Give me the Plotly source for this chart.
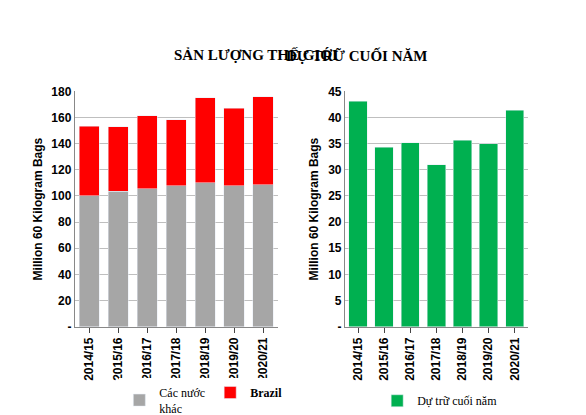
import plotly.graph_objects as go

years = ["2014/15", "2015/16", "2016/17", "2017/18", "2018/19", "2019/20", "2020/21"]
other = [100, 103.5, 105.5, 108, 110, 108, 108.5]
brazil = [53.5, 49.5, 56, 50.5, 65, 59, 67.5]
stocks = [43.1, 34.3, 35.2, 31.0, 35.7, 35.0, 41.4]

fig = go.Figure()
fig.add_trace(go.Bar(x=years, y=other, name="Các nước<br>khác", marker_color="#a6a6a6",
                     xaxis="x", yaxis="y", legend="legend"))
fig.add_trace(go.Bar(x=years, y=brazil, name="<b>Brazil</b>", marker_color="#ff0000",
                     xaxis="x", yaxis="y", legend="legend"))
fig.add_trace(go.Bar(x=years, y=stocks, name="Dự trữ cuối năm", marker_color="#00b050",
                     xaxis="x2", yaxis="y2", legend="legend2"))

tickf = dict(family="Arial", size=12, color="black")
ytitle = dict(text="<b>Million 60 Kilogram Bags</b>", font=dict(family="Arial", size=12, color="black"), standoff=6)
fig.update_layout(
    width=586, height=415, barmode="stack", bargap=0.3,
    paper_bgcolor="white", plot_bgcolor="white",
    margin=dict(l=0, r=0, t=0, b=0),
    font=tickf, showlegend=True,
    xaxis=dict(domain=[0.114, 0.46], anchor="y", tickangle=-90, showline=True, linecolor="#888",
               ticks="outside", tickfont=tickf, tickprefix="<b>", ticksuffix="</b>", automargin=False),
    yaxis=dict(domain=[0.217, 0.795], range=[0, 180], gridcolor="#bfbfbf",
               showline=True, linecolor="#888", title=ytitle, automargin=False,
               tickvals=list(range(0, 181, 20)),
               ticktext=["<b>-</b>"] + ["<b>%d</b>" % v for v in range(20, 181, 20)]),
    xaxis2=dict(domain=[0.575, 0.887], anchor="y2", tickangle=-90, showline=True, linecolor="#888",
                ticks="outside", tickfont=tickf, tickprefix="<b>", ticksuffix="</b>", automargin=False),
    yaxis2=dict(domain=[0.217, 0.795], range=[0, 45], anchor="x2", gridcolor="#bfbfbf",
                showline=True, linecolor="#888", title=ytitle, automargin=False,
                tickvals=list(range(0, 46, 5)),
                ticktext=["<b>-</b>"] + ["<b>%d</b>" % v for v in range(5, 46, 5)]),
    legend=dict(orientation="h", x=0.19, y=0.035, xanchor="left", yanchor="middle",
                font=dict(family="Times New Roman", size=12, color="black"), traceorder="normal",
                itemwidth=30, tracegroupgap=0),
    legend2=dict(orientation="h", x=0.63, y=0.035, xanchor="left", yanchor="middle",
                 font=dict(family="Times New Roman", size=12, color="black")),
    annotations=[
        dict(text="<b>SẢN LƯỢNG THẾ GIỚI</b>", x=0.28, y=0.91, xref="paper", yref="paper",
             showarrow=False, font=dict(family="Times New Roman", size=15, color="black")),
        dict(text="<b>DỰ TRỮ CUỐI NĂM</b>", x=0.72, y=0.91, xref="paper", yref="paper",
             showarrow=False, font=dict(family="Times New Roman", size=15, color="black")),
    ],
)
fig.write_html("out.html")
